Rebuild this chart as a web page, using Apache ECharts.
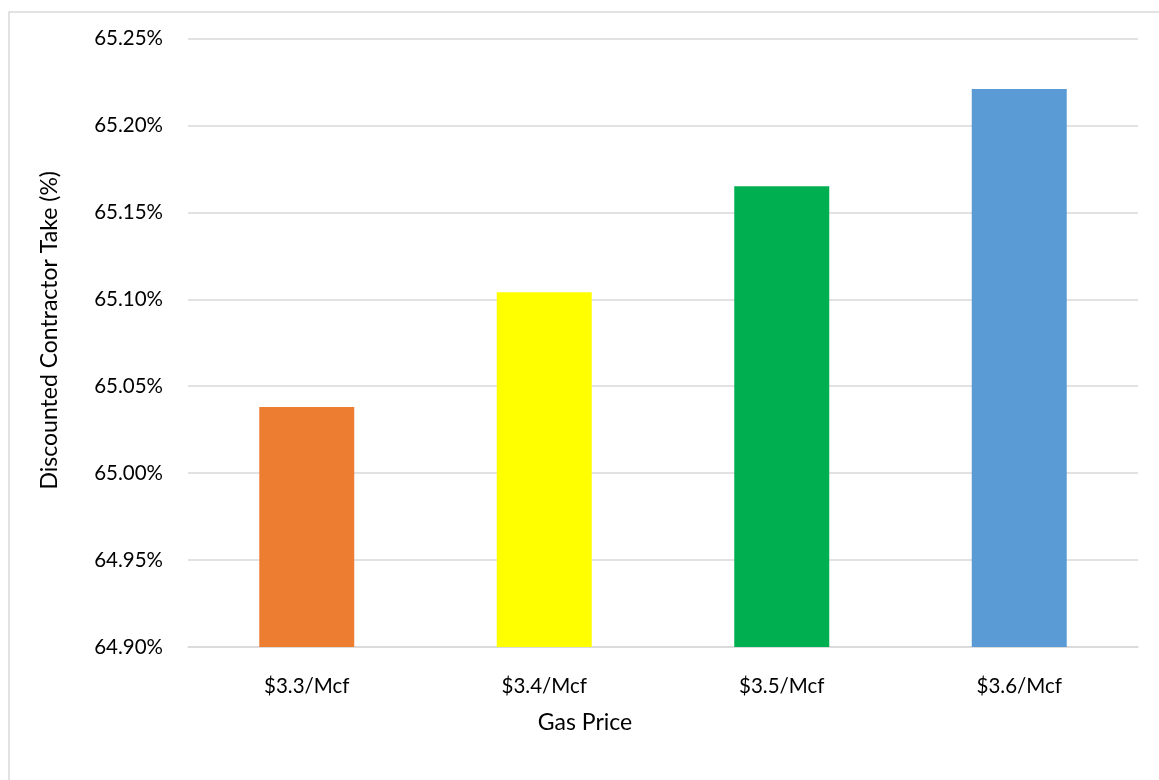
<!DOCTYPE html>
<html>
<head>
<meta charset="utf-8">
<script src="https://cdn.jsdelivr.net/npm/echarts@6/dist/echarts.min.js"></script>
<style>
  html, body { margin: 0; padding: 0; background: #ffffff; }
  #chart { width: 1159px; height: 780px; }
</style>
</head>
<body>
<div id="chart"></div>
<script>
// Gas price scenarios and the resulting discounted contractor take (%)
const categories = ['$3.3/Mcf', '$3.4/Mcf', '$3.5/Mcf', '$3.6/Mcf'];
const contractorTake = [65.038, 65.104, 65.165, 65.221];
const barColors = ['#ED7D31', '#FFFF00', '#00B050', '#5B9BD5'];

const FONT = 'Lato, "Open Sans", sans-serif';

const chart = echarts.init(document.getElementById('chart'), null, { renderer: 'canvas' });

chart.setOption({
  animation: false,
  backgroundColor: '#ffffff',
  graphic: [{
    type: 'rect',
    left: 6.5,
    top: 9.5,
    shape: { width: 1300, height: 900 },
    style: { fill: 'none', stroke: '#d9d9d9', lineWidth: 1.5 },
    silent: true,
    z: -1
  }],
  grid: { left: 188, right: 21, top: 38.5, bottom: 133, containLabel: false },
  xAxis: {
    type: 'category',
    data: categories,
    name: 'Gas Price',
    nameLocation: 'middle',
    nameGap: 64,
    nameTextStyle: { fontFamily: FONT, fontSize: 23, color: '#000000', padding: [0, 156, 0, 0] },
    axisLine: { lineStyle: { color: '#d9d9d9', width: 1.5 } },
    axisTick: { show: false },
    axisLabel: { fontFamily: FONT, fontSize: 20.5, color: '#000000', margin: 29 }
  },
  yAxis: {
    type: 'value',
    min: 64.9,
    max: 65.25,
    interval: 0.05,
    name: 'Discounted Contractor Take (%)',
    nameLocation: 'middle',
    nameGap: 127,
    nameTextStyle: { fontFamily: FONT, fontSize: 23, color: '#000000', padding: [0, 0, 0, 25] },
    axisLine: { show: false },
    axisTick: { show: false },
    splitLine: { lineStyle: { color: '#d9d9d9', width: 1.5 } },
    axisLabel: {
      fontFamily: FONT, fontSize: 20.5, color: '#000000', margin: 25,
      formatter: v => v.toFixed(2) + '%'
    }
  },
  series: [{
    type: 'bar',
    data: contractorTake.map((v, i) => ({ value: v, itemStyle: { color: barColors[i] } })),
    barWidth: '40%'
  }]
});
</script>
</body>
</html>
